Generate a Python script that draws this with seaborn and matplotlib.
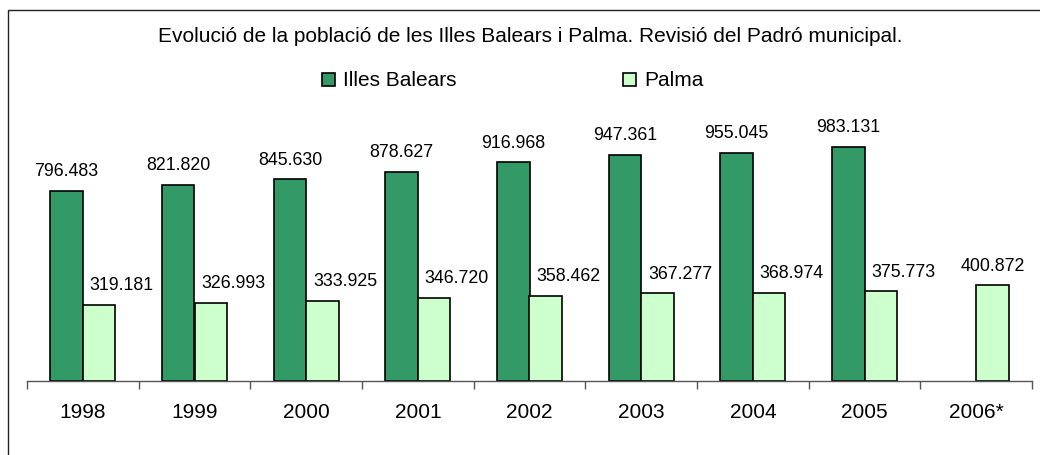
import matplotlib
matplotlib.use("Agg")
import matplotlib.pyplot as plt
import matplotlib.patches as mpatches
import seaborn as sns
import pandas as pd
import numpy as np

years = ["1998", "1999", "2000", "2001", "2002", "2003", "2004", "2005", "2006*"]
illes_balears = [796483, 821820, 845630, 878627, 916968, 947361, 955045, 983131, None]
palma = [319181, 326993, 333925, 346720, 358462, 367277, 368974, 375773, 400872]
series = ["Illes Balears", "Palma"]
title = "Evolució de la població de les Illes Balears i Palma. Revisió del Padró municipal."

rows = []
for y, v in zip(years, illes_balears):
    if v is not None:
        rows.append({"year": y, "serie": series[0], "value": v})
for y, v in zip(years, palma):
    if v is not None:
        rows.append({"year": y, "serie": series[1], "value": v})
df = pd.DataFrame(rows)

sns.set_theme(style="white")
plt.rcParams["font.family"] = ["Liberation Sans", "DejaVu Sans"]
plt.rcParams["text.color"] = "black"
plt.rcParams["xtick.color"] = "#555555"
plt.rcParams["xtick.labelcolor"] = "black"
plt.rcParams["xtick.bottom"] = True

W, H = 1040, 455
fig = plt.figure(figsize=(W / 100, H / 100), dpi=100)
ax = fig.add_axes([27 / W, 1 - 381 / H, 1005 / W, 238.3 / H])

palette = {"Illes Balears": "#339966", "Palma": "#CCFFCC"}
sns.barplot(data=df, x="year", y="value", hue="serie", order=years,
            hue_order=series, palette=palette, width=0.58, dodge=True,
            edgecolor="black", linewidth=1.2, saturation=1, ax=ax)

ax.set_xlim(-0.5, len(years) - 0.5)
ax.set_ylim(0, 1000000)
ax.set_xlabel("")
ax.set_ylabel("")
ax.set_yticks([])
for s in ["top", "right", "left"]:
    ax.spines[s].set_visible(False)
ax.spines["bottom"].set_color("#555555")
ax.spines["bottom"].set_linewidth(1.0)

ax.set_xticks(range(len(years)))
ax.set_xticklabels(years, fontsize=15, color="black")
ax.set_xticks(np.arange(-0.5, len(years)), minor=True)
ax.tick_params(axis="x", which="major", bottom=False, length=0, pad=16)
ax.tick_params(axis="x", which="minor", bottom=True, length=6, width=1.0,
               color="#555555", direction="out")

# value labels
has_dark = {y: v is not None for y, v in zip(years, illes_balears)}
for ci, cont in enumerate(ax.containers):
    for bar in cont:
        h = bar.get_height()
        if h is None or np.isnan(h) or h == 0:
            continue
        xc = bar.get_x() + bar.get_width() / 2
        cat = years[int(round(xc))]
        txt = f"{int(round(h)):,}".replace(",", ".")
        if ci == 1 and has_dark[cat]:
            ax.annotate(txt, (bar.get_x(), h), xytext=(5, 14), textcoords="offset points",
                        ha="left", va="center", fontsize=12.8, color="black")
        else:
            ax.annotate(txt, (xc, h), xytext=(0, 14), textcoords="offset points",
                        ha="center", va="center", fontsize=12.8, color="black")

# legend
handles, labels = ax.get_legend_handles_labels()
if ax.get_legend() is not None:
    ax.get_legend().remove()
fig.legend(handles, labels, loc="center left", bbox_to_anchor=(322 / W, 1 - 81 / H),
           ncol=2, frameon=False, fontsize=15, handlelength=0.6, handleheight=0.6,
           handletextpad=0.4, columnspacing=8.0, borderpad=0, borderaxespad=0,
           labelcolor="black")

fig.text(530 / W, 1 - 36 / H, title, ha="center", va="center", fontsize=15, color="black")

# chart border (left and top visible)
fig.add_artist(mpatches.Rectangle((8 / W, -0.1), 1.2, 1.1 - 10 / H, transform=fig.transFigure,
                                  fill=False, edgecolor="#222222", linewidth=1.0, clip_on=False))

fig.savefig("out.png", dpi=100)
